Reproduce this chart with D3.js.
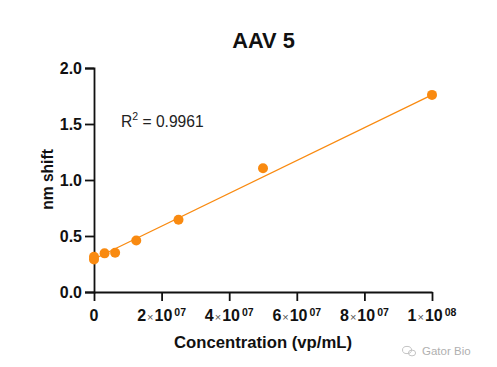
<!DOCTYPE html>
<html><head><meta charset="utf-8">
<script src="https://cdnjs.cloudflare.com/ajax/libs/d3/7.8.5/d3.min.js"></script>
<style>html,body{margin:0;padding:0;background:#fff}svg{display:block}text{font-family:"Liberation Sans",Arial,sans-serif}</style>
</head><body><div id="c"></div>
<script>
const concentrations=[0,0,3125000,6250000,12500000,25000000,50000000,100000000];
const shifts=[0.29,0.315,0.345,0.35,0.46,0.645,1.105,1.76];
const fitX=[0,100000000];
const fitY=[0.295,1.76];
const yTicks=[0,0.5,1,1.5,2];
const xTicks=[0,20000000,40000000,60000000,80000000,100000000];
const xMant=["0","2","4","6","8","1"];
const xExp=["","07","07","07","07","08"];
const color="#f98a10";
const W=497,H=367;
const svg=d3.select("#c").append("svg").attr("width",W).attr("height",H);
const x=d3.scaleLinear().domain([0,1e8]).range([94,432]);
const y=d3.scaleLinear().domain([0,2]).range([292,68]);

const yAxis=svg.append("g").attr("transform","translate(94,0)")
 .call(d3.axisLeft(y).tickValues(yTicks).tickFormat(d3.format(".1f")).tickSize(9).tickPadding(3));
yAxis.selectAll("text").attr("font-size",16).attr("font-weight","bold").attr("fill","#111");
const xAxis=svg.append("g").attr("transform","translate(0,292)")
 .call(d3.axisBottom(x).tickValues(xTicks).tickFormat("").tickSize(9).tickSizeOuter(0));
svg.selectAll(".domain,.tick line").attr("stroke","#111").attr("stroke-width",1.8);

const tl=svg.append("g").selectAll("text").data(xTicks).join("text")
 .attr("y",321).attr("x",d=>x(d)).attr("text-anchor","middle").attr("fill","#111")
 .attr("font-size",16).attr("font-weight","bold");
tl.each(function(d,i){
 const t=d3.select(this);
 t.append("tspan").text(xMant[i]);
 if(xExp[i]){
  t.append("tspan").text("\u00d7").attr("font-weight","normal").attr("font-size",11).attr("fill","#555").attr("dx",1);
  t.append("tspan").text("10").attr("dx",1);
  t.append("tspan").text(xExp[i]).attr("font-size",10.5).attr("dy",-5).attr("dx",2);
 }
});

svg.append("path").datum(d3.range(fitX.length))
 .attr("d",d3.line().x(i=>x(fitX[i])).y(i=>y(fitY[i])))
 .attr("fill","none").attr("stroke",color).attr("stroke-width",1.2);
svg.append("g").selectAll("circle").data(concentrations).join("circle")
 .attr("cx",d=>x(d)).attr("cy",(d,i)=>y(shifts[i])).attr("r",5).attr("fill",color);

svg.append("text").attr("x",263.5).attr("y",48).attr("text-anchor","middle").attr("font-size",21.8).attr("font-weight","bold").attr("fill","#111").text("AAV 5");
svg.append("text").attr("transform","translate(53,179.5) rotate(-90)").attr("text-anchor","middle").attr("font-size",15.6).attr("font-weight","bold").attr("fill","#111").text("nm shift");
svg.append("text").attr("x",263).attr("y",348).attr("text-anchor","middle").attr("font-size",16.7).attr("font-weight","bold").attr("fill","#111").text("Concentration (vp/mL)");
const r=svg.append("text").attr("x",121).attr("y",127).attr("font-size",15.6).attr("fill","#222");
r.append("tspan").text("R");
r.append("tspan").text("2").attr("font-size",10.5).attr("dy",-7);
r.append("tspan").text(" = 0.9961").attr("dy",7);
const wm=svg.append("g").attr("fill","none").attr("stroke","#c4c4c4").attr("stroke-width",1);
wm.append("ellipse").attr("cx",407).attr("cy",350).attr("rx",4.5).attr("ry",3.6);
wm.append("ellipse").attr("cx",412).attr("cy",353).attr("rx",3.6).attr("ry",2.9);
svg.append("text").attr("x",422).attr("y",355).attr("font-size",11.5).attr("fill","#b0b0b0").text("Gator Bio");
</script></body></html>
